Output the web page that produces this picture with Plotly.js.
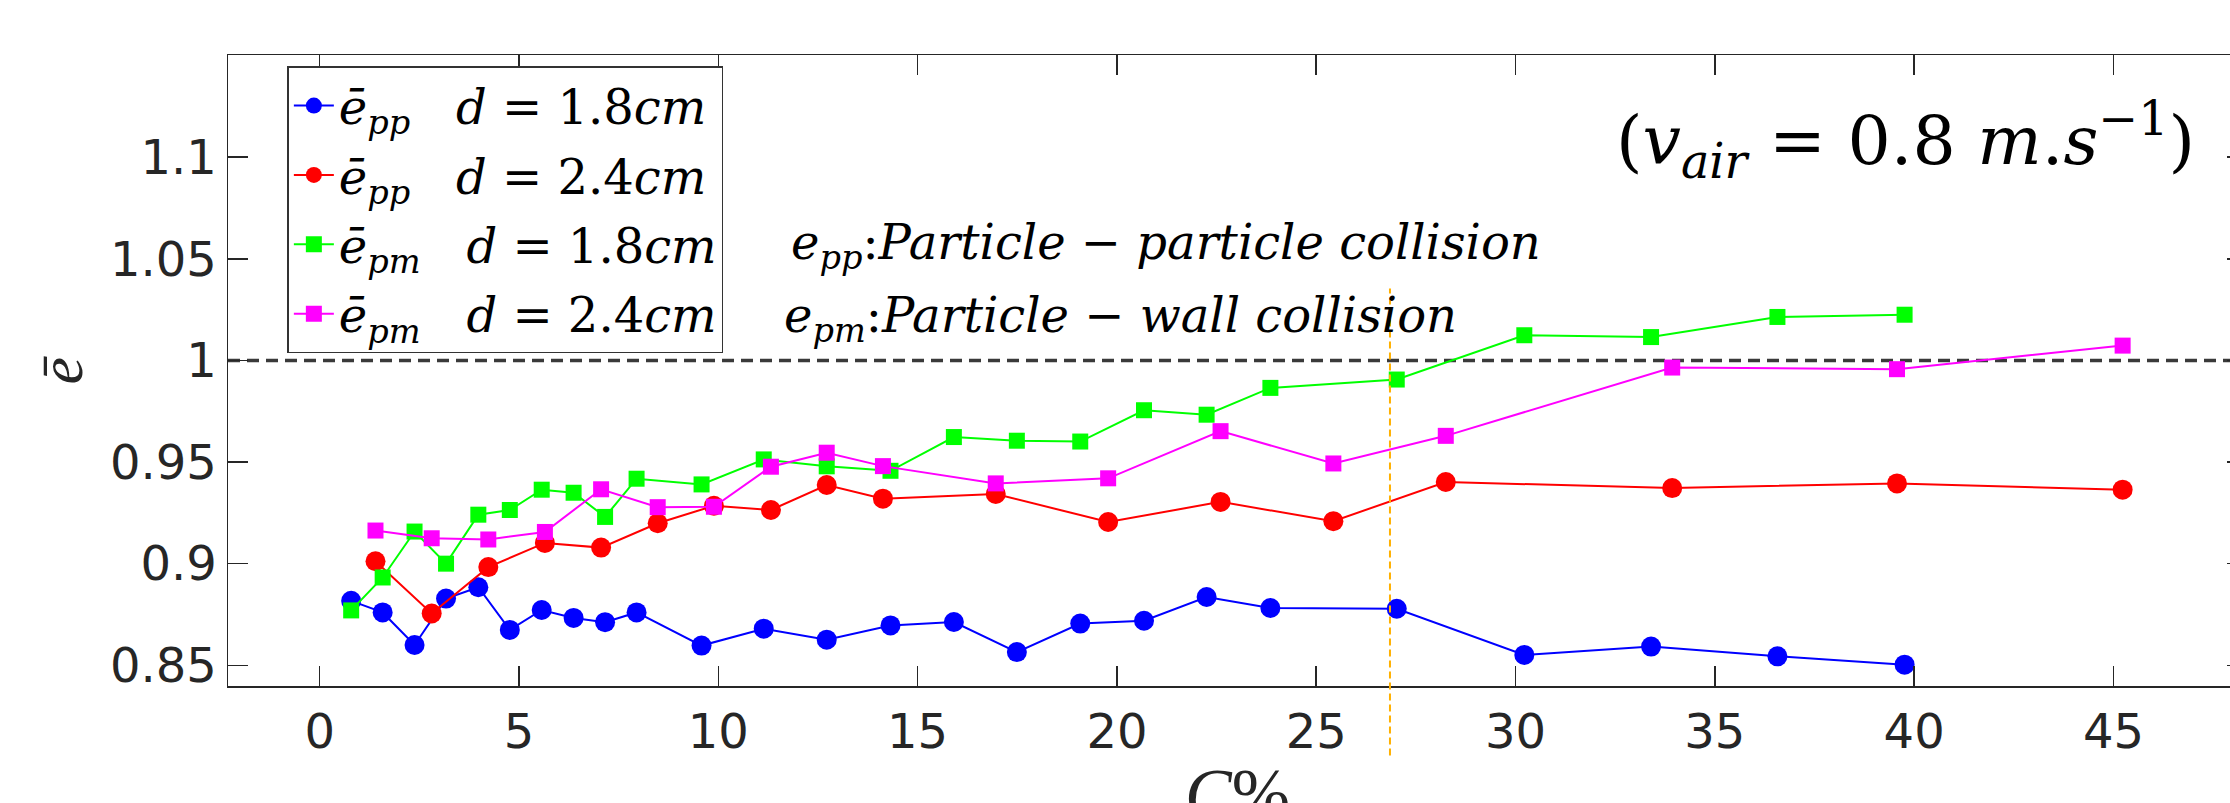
<!DOCTYPE html>
<html>
<head>
<meta charset="utf-8">
<script src="https://cdn.plot.ly/plotly-3.0.1.min.js"></script>
<style>
html,body{margin:0;padding:0;overflow:hidden;background:#fff;}
#chart{width:2250px;height:803px;}
</style>
</head>
<body>
<div id="chart"></div>
<script>
// ---- data ----
const xSmall = [0.79,1.58,2.38,3.17,3.98,4.77,5.57,6.37,7.16,7.95,9.58,11.14,12.72,14.32,15.91,17.49,19.08,20.68,22.25,23.85,27.02,30.22,33.4,36.57,39.76];
const ePP18 = [0.8817,0.876,0.860,0.8828,0.8884,0.8674,0.8772,0.8733,0.8712,0.876,0.8597,0.868,0.8626,0.8696,0.8713,0.8565,0.8705,0.8719,0.8836,0.8782,0.8778,0.8551,0.8592,0.8544,0.8503];
const ePM18 = [0.877,0.8932,0.9158,0.900,0.9241,0.9264,0.9364,0.9349,0.923,0.9418,0.939,0.9513,0.9479,0.9457,0.9623,0.9605,0.9601,0.9755,0.9733,0.9865,0.9906,1.0124,1.0115,1.0214,1.0225];
const xLarge = [1.40,2.81,4.23,5.65,7.06,8.48,9.89,11.32,12.72,14.13,16.96,19.78,22.6,25.43,28.25,33.93,39.57,45.23];
const ePP24 = [0.9012,0.8755,0.8983,0.9102,0.9079,0.9199,0.9285,0.9264,0.9387,0.932,0.9343,0.9205,0.9304,0.9209,0.9402,0.9372,0.9395,0.9364];
const ePM24 = [0.9163,0.9125,0.9119,0.9156,0.9366,0.9278,0.928,0.9477,0.9546,0.948,0.9395,0.942,0.9652,0.9493,0.9629,0.9965,0.9957,1.0073];
const seriesNames = [
  "<i>ē</i><sub><i>pp</i></sub>&nbsp;&nbsp;&nbsp;<i>d</i> = 1.8<i>cm</i>",
  "<i>ē</i><sub><i>pp</i></sub>&nbsp;&nbsp;&nbsp;<i>d</i> = 2.4<i>cm</i>",
  "<i>ē</i><sub><i>pm</i></sub>&nbsp;&nbsp;&nbsp;<i>d</i> = 1.8<i>cm</i>",
  "<i>ē</i><sub><i>pm</i></sub>&nbsp;&nbsp;&nbsp;<i>d</i> = 2.4<i>cm</i>"
];
const xTicks = [0,5,10,15,20,25,30,35,40,45];
const yTicks = [0.85,0.9,0.95,1,1.05,1.1];
const yTickText = ["0.85","0.9","0.95","1","1.05","1.1"];
const refLevel = 1;          // dashed reference e = 1
const transitionC = 26.85;   // orange dashed marker
const xTitle = "<i>C</i>%";
const yTitle = "<i>ē</i>";
const noteVair = "(<i>v</i><sub><i>air</i></sub> = 0.8 <i>m</i>.<i>s</i><sup>−1</sup>)";
const notePP = "<i>e</i><sub><i>pp</i></sub>:<i>Particle</i> − <i>particle collision</i>";
const notePM = "<i>e</i><sub><i>pm</i></sub>:<i>Particle</i> − <i>wall collision</i>";

// ---- plot ----
const L = 228, R = 3, T = 55, B = 117, W = 2250, H = 803;
const PW = 2247 - L, PH = 631, PB = 685.7;
function tr(x, y, name, color, symbol, size, grp){
  return {x:x, y:y, name:name, legendgroup:grp, type:'scatter', mode:'lines+markers',
    line:{color:color, width:2}, marker:{color:color, symbol:symbol, size:size}, cliponaxis:false};
}
const data = [
  tr(xSmall, ePP18, seriesNames[0], '#0000FF', 'circle', 20, 'g1'),
  tr(xLarge, ePP24, seriesNames[1], '#FF0000', 'circle', 20, 'g2'),
  tr(xSmall, ePM18, seriesNames[2], '#00FF00', 'square', 16, 'g3'),
  tr(xLarge, ePM24, seriesNames[3], '#FF00FF', 'square', 16, 'g4')
];
const axisCommon = {showline:true, mirror:'ticks', linecolor:'#262626', linewidth:1.5,
  ticks:'inside', ticklen:20, tickwidth:1.5, tickcolor:'#262626', showgrid:false, zeroline:false,
  tickfont:{family:'DejaVu Sans', size:48, color:'#262626'}};
const layout = {
  width:W, height:H, margin:{l:L, r:R, t:T, b:B}, paper_bgcolor:'#fff', plot_bgcolor:'#fff',
  showlegend:true,
  xaxis:Object.assign({}, axisCommon, {range:[-2.30,48.35], tickvals:xTicks, ticktext:xTicks.map(String),
    ticklabelstandoff:3}),
  yaxis:Object.assign({}, axisCommon, {range:[0.8398,1.1503], tickvals:yTicks, ticktext:yTickText}),
  legend:{x:0.0294, y:0.982, xanchor:'left', yanchor:'top', bgcolor:'#fff', bordercolor:'#333', borderwidth:1.5,
    font:{family:'DejaVu Serif', size:48, color:'#000'}, itemwidth:40, traceorder:'grouped', tracegroupgap:4},
  shapes:[
    {type:'line', xref:'paper', x0:0, x1:1, yref:'y', y0:refLevel, y1:refLevel, layer:'below',
      line:{color:'#3a3a3a', width:3.5, dash:'12px,7px'}},
    {type:'line', xref:'x', x0:transitionC, x1:transitionC, yref:'paper', y0:-0.11, y1:0.63, layer:'above',
      line:{color:'#FFB000', width:2, dash:'7px,4px'}}
  ],
  annotations:[
    {text:xTitle, xref:'paper', yref:'paper', x:0.5, y:(PB-753)/PH, xanchor:'center', yanchor:'top',
      showarrow:false, font:{family:'Liberation Serif', size:70, color:'#262626'}},
    {text:yTitle, xref:'paper', yref:'paper', x:(60-L)/PW, y:0.5, xanchor:'center', yanchor:'middle', textangle:-90,
      showarrow:false, font:{family:'Liberation Serif', size:62, color:'#262626'}},
    {text:noteVair, xref:'paper', yref:'paper', x:(1614-L)/PW, y:(PB-140)/PH, xanchor:'left', yanchor:'middle',
      showarrow:false, font:{family:'DejaVu Serif', size:68, color:'#000'}},
    {text:notePP, xref:'paper', yref:'paper', x:(789-L)/PW, y:(PB-245)/PH, xanchor:'left', yanchor:'middle',
      showarrow:false, font:{family:'DejaVu Serif', size:48, color:'#000'}},
    {text:notePM, xref:'paper', yref:'paper', x:(782-L)/PW, y:(PB-318)/PH, xanchor:'left', yanchor:'middle',
      showarrow:false, font:{family:'DejaVu Serif', size:48, color:'#000'}}
  ]
};
Plotly.newPlot('chart', data, layout, {displayModeBar:false, staticPlot:true});
</script>
</body>
</html>
